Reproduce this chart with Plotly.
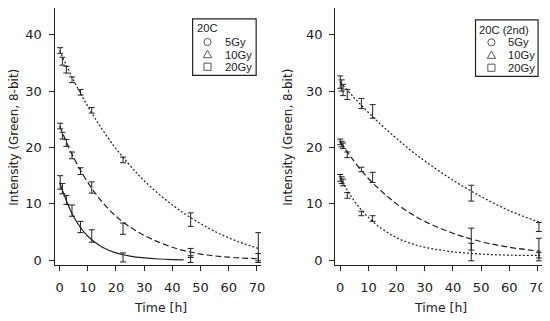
import plotly.graph_objects as go

# ---------------- data ----------------
# Panel A: 20C
tA = [0.2, 1, 2.4, 4.4, 7.4, 11.4, 22.5, 46.5, 70.5]
a5_v = [13.8, 12.7, 10.7, 8.8, 5.9, 4.3, 0.5, 0.2]
a5_e = [1.2, 0.9, 0.8, 1.0, 1.0, 1.1, 0.8, 0.6]
a10_v = [23.8, 22.1, 20.8, 18.6, 15.8, 12.9, 5.6, 1.3, 0.4]
a10_e = [0.5, 0.6, 0.6, 0.6, 0.6, 1.0, 1.0, 0.8, 0.8]
a20_v = [37.2, 35.3, 33.8, 32.0, 29.8, 26.6, 17.8, 7.2, 2.4]
a20_e = [0.5, 0.7, 0.6, 0.5, 0.5, 0.5, 0.5, 1.2, 2.5]

# fitted curves of panel A
fitA5_t = [0, 5, 10, 15, 20, 25, 30, 35, 40, 44]
fitA5_v = [13.8, 7.7, 4.25, 2.36, 1.31, 0.73, 0.41, 0.22, 0.12, 0.08]
fit_t = [0, 5, 10, 15, 20, 25, 30, 40, 50, 60, 71]
fitA10_v = [23.8, 18.2, 13.8, 10.4, 7.8, 5.9, 4.4, 2.3, 1.1, 0.55, 0.25]
fitA20_v = [37.2, 31.9, 27.3, 23.3, 19.8, 16.8, 14.1, 9.8, 6.5, 3.96, 2.0]

# Panel B: 20C (2nd)
tB = [0, 0.5, 1, 2.5, 7.5, 11.5, 46.5, 70.5]
b5_v = [14.6, 14.2, 13.8, 11.5, 8.3, 7.4, 2.4, 0.9]
b5_e = [0.6, 0.6, 0.6, 0.5, 0.4, 0.5, 0.6, 0.5]
b10_v = [21.0, 20.6, 20.3, 18.7, 16.1, 14.7, 2.8, 1.9]
b10_e = [0.5, 0.5, 0.5, 0.5, 0.4, 0.9, 2.9, 2.0]
b20_v = [31.6, 31.0, 30.2, 29.4, 27.8, 26.4, 11.9, 5.9]
b20_e = [1.1, 1.0, 1.0, 0.9, 0.9, 1.2, 1.4, 0.8]

fitB5_v = [14.6, 10.5, 7.6, 5.5, 4.0, 3.0, 2.3, 1.5, 1.1, 0.9, 0.85]
fitB10_v = [21.0, 17.5, 14.5, 12.1, 10.0, 8.3, 6.9, 4.8, 3.3, 2.3, 1.6]
fitB20_v = [31.6, 28.8, 26.2, 23.8, 21.6, 19.5, 17.6, 14.2, 11.3, 8.8, 6.7]

x_ticks = [0, 10, 20, 30, 40, 50, 60, 70]
y_ticks = [0, 10, 20, 30, 40]
legend_titles = ["20C", "20C (2nd)"]
legend_labels = ["5Gy", "10Gy", "20Gy"]
x_title = "Time [h]"
y_title = "Intensity (Green, 8-bit)"

# ---------------- styling ----------------
# the page body has an 8 px margin, so the figure is 8 px smaller than the window
OFF = 8
W, H = 550 - OFF, 321 - OFF
FONT = "DejaVu Sans"
LFONT = "Liberation Sans, Arial, sans-serif"
INK = "#222222"
GREY = "#555555"
DOT = "2px,2px"
DASH = "6px,3px"

fig = go.Figure()


def px_x(p):
    return (p - OFF) / W


def px_y(p):
    return 1 - (p - OFF) / H


def add_points(t, v, e, symbol, xa, ya):
    n = len(v)
    fig.add_trace(go.Scatter(
        x=t[:n], y=v, mode="markers", xaxis=xa, yaxis=ya, showlegend=False,
        marker=dict(symbol=symbol, size=8.5, color="rgba(0,0,0,0)",
                    line=dict(color=INK, width=1)),
        error_y=dict(type="data", array=e, color=INK, thickness=1, width=3),
    ))


def add_curve(t, v, dash, xa, ya):
    fig.add_trace(go.Scatter(
        x=t, y=v, mode="lines", xaxis=xa, yaxis=ya, showlegend=False,
        line=dict(color=INK, width=1.2, dash=dash, shape="spline", smoothing=1),
        hoverinfo="skip",
    ))


# panel A
add_curve(fitA5_t, fitA5_v, "solid", "x", "y")
add_curve(fit_t, fitA10_v, DASH, "x", "y")
add_curve(fit_t, fitA20_v, DOT, "x", "y")
add_points(tA, a5_v, a5_e, "circle-open", "x", "y")
add_points(tA, a10_v, a10_e, "triangle-up-open", "x", "y")
add_points(tA, a20_v, a20_e, "square-open", "x", "y")

# panel B
add_curve(fit_t, fitB5_v, DOT, "x2", "y2")
add_curve(fit_t, fitB10_v, DASH, "x2", "y2")
add_curve(fit_t, fitB20_v, DOT, "x2", "y2")
add_points(tB, b5_v, b5_e, "circle-open", "x2", "y2")
add_points(tB, b10_v, b10_e, "triangle-up-open", "x2", "y2")
add_points(tB, b20_v, b20_e, "square-open", "x2", "y2")

x_range = [-1.76, 71.5]
y_range = [-0.81, 44.74]
ydom = [px_y(267.3), px_y(8)]

axis_common = dict(showline=True, linecolor=INK, linewidth=1.3, ticks="outside",
                   ticklen=5, tickwidth=1.2, tickcolor=INK, showgrid=False,
                   zeroline=False, tickfont=dict(family=FONT, size=13, color=INK))

fig.update_layout(
    width=W, height=H, margin=dict(l=0, r=0, t=0, b=0),
    paper_bgcolor="white", plot_bgcolor="white",
    xaxis=dict(domain=[px_x(55), px_x(263)], range=x_range, tickvals=x_ticks,
               anchor="y", ticklabelstandoff=5, **axis_common),
    yaxis=dict(domain=ydom, range=y_range, tickvals=y_ticks, anchor="x",
               ticklabelstandoff=4, **axis_common),
    xaxis2=dict(domain=[px_x(337.7), px_x(545.7)], range=x_range, tickvals=x_ticks,
                anchor="y2", ticklabelstandoff=5, **axis_common),
    yaxis2=dict(domain=ydom, range=y_range, tickvals=y_ticks, anchor="x2",
                ticklabelstandoff=4, **axis_common),
)

annotations = []
shapes = []

# axis titles
for cx in (161.7, 444):
    annotations.append(dict(x=px_x(cx), y=px_y(310), xref="paper", yref="paper",
                            text=x_title, showarrow=False, xanchor="center", yanchor="middle",
                            font=dict(family=FONT, size=12.5, color=INK)))
for cx in (14, 290):
    annotations.append(dict(x=px_x(cx), y=px_y(138), xref="paper", yref="paper",
                            text=y_title, showarrow=False, textangle=-90,
                            xanchor="center", yanchor="middle", borderpad=0,
                            font=dict(family=FONT, size=12, color=INK)))


# legend boxes (key symbols drawn as layout shapes)
def key_symbol(kind, cx, cy, r=3.6):
    line = dict(color=GREY, width=1)
    if kind == "circle":
        return dict(type="circle", xref="paper", yref="paper", line=line,
                    x0=px_x(cx - r), x1=px_x(cx + r), y0=px_y(cy + r), y1=px_y(cy - r))
    if kind == "square":
        return dict(type="rect", xref="paper", yref="paper", line=line,
                    x0=px_x(cx - r), x1=px_x(cx + r), y0=px_y(cy + r), y1=px_y(cy - r))
    # triangle
    h = r * 1.05
    pts = [(cx, cy - h - 0.6), (cx + r * 1.15, cy + h - 0.6), (cx - r * 1.15, cy + h - 0.6)]
    path = "M " + " L ".join(f"{px_x(x):.5f},{px_y(y):.5f}" for x, y in pts) + " Z"
    return dict(type="path", xref="paper", yref="paper", line=line, path=path)


boxes = [
    dict(box=(194, 19, 258, 76), title_xy=(197, 28.5), sym_x=209, lab_x=226, rows=(42.3, 55, 67.3)),
    dict(box=(479, 20, 542, 77), title_xy=(481, 30), sym_x=495, lab_x=511, rows=(42.7, 55.7, 68.3)),
]
kinds = ["circle", "triangle", "square"]
for b, title in zip(boxes, legend_titles):
    x0, y0, x1, y1 = b["box"]
    shapes.append(dict(type="rect", xref="paper", yref="paper",
                       x0=px_x(x0), x1=px_x(x1), y0=px_y(y1), y1=px_y(y0),
                       line=dict(color=INK, width=1.2), fillcolor="white", layer="above"))
    annotations.append(dict(x=px_x(b["title_xy"][0]), y=px_y(b["title_xy"][1]),
                            xref="paper", yref="paper", text=title, showarrow=False,
                            xanchor="left", yanchor="middle", borderpad=0,
                            font=dict(family=LFONT, size=11.2, color=INK)))
    for ry, k, lab in zip(b["rows"], kinds, legend_labels):
        shapes.append(key_symbol(k, b["sym_x"], ry))
        annotations.append(dict(x=px_x(b["lab_x"]), y=px_y(ry), xref="paper", yref="paper",
                                text=lab, showarrow=False, xanchor="left", yanchor="middle",
                                borderpad=0,
                                font=dict(family=LFONT, size=11.2, color=INK)))

fig.update_layout(annotations=annotations, shapes=shapes)
fig.write_html("out.html")
